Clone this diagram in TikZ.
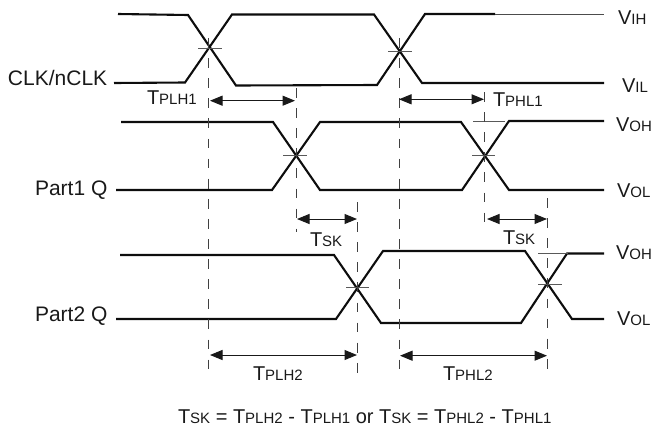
\documentclass[tikz,border=0pt]{standalone}
\usepackage{fontspec}
\setmainfont{Liberation Sans}
\usetikzlibrary{arrows.meta}
\newcommand{\sg}[2]{{\fontsize{20}{20}\selectfont #1}{\fontsize{15}{16}\selectfont #2}}
\tikzset{
  wave/.style={line width=2.1pt,line join=miter,black!95},
  thinw/.style={line width=1pt,black!70},
  guide/.style={line width=1.1pt,black!75,dash pattern=on 9.8pt off 10.3pt},
  tickline/.style={line width=1pt,black!65},
  spanline/.style={line width=1pt,black!90,{Triangle[length=12.5pt,width=10pt]}-{Triangle[length=12.5pt,width=10pt]}},
  lab/.style={anchor=base west,inner sep=0pt,outer sep=0pt,font=\fontsize{21}{22}\selectfont,text=black!90},
}
\begin{document}
\begin{tikzpicture}[x=1pt,y=-1pt]
\useasboundingbox (0,0) rectangle (652,431);
% CLK
\draw[wave] (118,14) -- (188,15) -- (236,85.5) -- (377,85) -- (425,14) -- (495,14);
\draw[thinw] (495,14) -- (604,14);
\draw[wave] (114,83) -- (185,82.5) -- (232,14.5) -- (374,14.5) -- (422,83) -- (604,83);
% Part1
\draw[wave] (121,122) -- (273,122) -- (320,190) -- (462,190) -- (509,121) -- (604,121);
\draw[wave] (116,190) -- (272,190) -- (320,122) -- (461,122) -- (509,190) -- (604,190);
% Part2
\draw[wave] (120,255) -- (334,255) -- (381,323) -- (521,323) -- (567,253.5) -- (604,253.5);
\draw[wave] (116,319) -- (336,319) -- (383,251) -- (525,251) -- (572,319) -- (604,319);
% crosses
\draw[tickline] (198,48) -- (222,48);
\draw[tickline] (388,51) -- (412,51);
\draw[tickline] (283,155) -- (307,155);
\draw[tickline] (472,155) -- (495,155);
\draw[tickline] (473,121) -- (505,121);
\draw[tickline] (346,287) -- (369,287);
\draw[tickline] (538,284) -- (562,284);
\draw[tickline] (538,253.5) -- (568,253.5);
% dashed verticals
\coordinate (g1t) at (208.3,38);  \coordinate (g1b) at (208.3,371);
\coordinate (g2t) at (399.8,38);  \coordinate (g2b) at (399.8,370);
\coordinate (g3t) at (296.2,88);  \coordinate (g3b) at (296.2,232);
\coordinate (g4t) at (484.8,92);  \coordinate (g4b) at (484.8,223);
\coordinate (g5t) at (357.2,202); \coordinate (g5b) at (357.2,373);
\coordinate (g6t) at (547.2,198); \coordinate (g6b) at (547.2,370);
\draw[guide] (g1t) -- (g1b);
\draw[guide] (g2t) -- (g2b);
\draw[guide] (g3t) -- (g3b);
\draw[guide] (g4t) -- (g4b);
\draw[guide] (g5t) -- (g5b);
\draw[guide] (g6t) -- (g6b);
% spans
\coordinate (a1) at (210,100.7); \coordinate (a2) at (295,100.7);
\coordinate (b1) at (399,99.3);  \coordinate (b2) at (484,99.3);
\coordinate (d1) at (297,219);   \coordinate (d2) at (357,219);
\coordinate (e1) at (487,219);   \coordinate (e2) at (547,219);
\coordinate (f1) at (210,355);   \coordinate (f2) at (357,355);
\coordinate (h1) at (400,355.7); \coordinate (h2) at (547,355.7);
\draw[spanline] (a1) -- (a2);
\draw[spanline] (b1) -- (b2);
\draw[spanline] (d1) -- (d2);
\draw[spanline] (e1) -- (e2);
\draw[spanline] (f1) -- (f2);
\draw[spanline] (h1) -- (h2);
% labels
\node[lab] (clk) at (8,85) {CLK/nCLK};
\node[lab] (p1) at (35,195) {Part1 Q};
\node[lab] (p2) at (35,321) {Part2 Q};
\node[lab] (tplh1) at (147,104) {\sg{T}{PLH1}};
\node[lab] (tphl1) at (493,106) {\sg{T}{PHL1}};
\node[lab] (tsk1) at (310,246) {\sg{T}{SK}};
\node[lab] (tsk2) at (503,244) {\sg{T}{SK}};
\node[lab] (tplh2) at (253,380) {\sg{T}{PLH2}};
\node[lab] (tphl2) at (443,380) {\sg{T}{PHL2}};
\node[lab] (vih) at (618,24) {\sg{V}{IH}};
\node[lab] (vil) at (622,92) {\sg{V}{IL}};
\node[lab] (voh1) at (616,131) {\sg{V}{OH}};
\node[lab] (vol1) at (617,197) {\sg{V}{OL}};
\node[lab] (voh2) at (616,259) {\sg{V}{OH}};
\node[lab] (vol2) at (617,325) {\sg{V}{OL}};
\node[lab] (formula) at (178,423) {\sg{T}{SK}\sg{ = T}{PLH2}\sg{ - T}{PLH1}\sg{ or T}{SK}\sg{ = T}{PHL2}\sg{ - T}{PHL1}};
\end{tikzpicture}
\end{document}
